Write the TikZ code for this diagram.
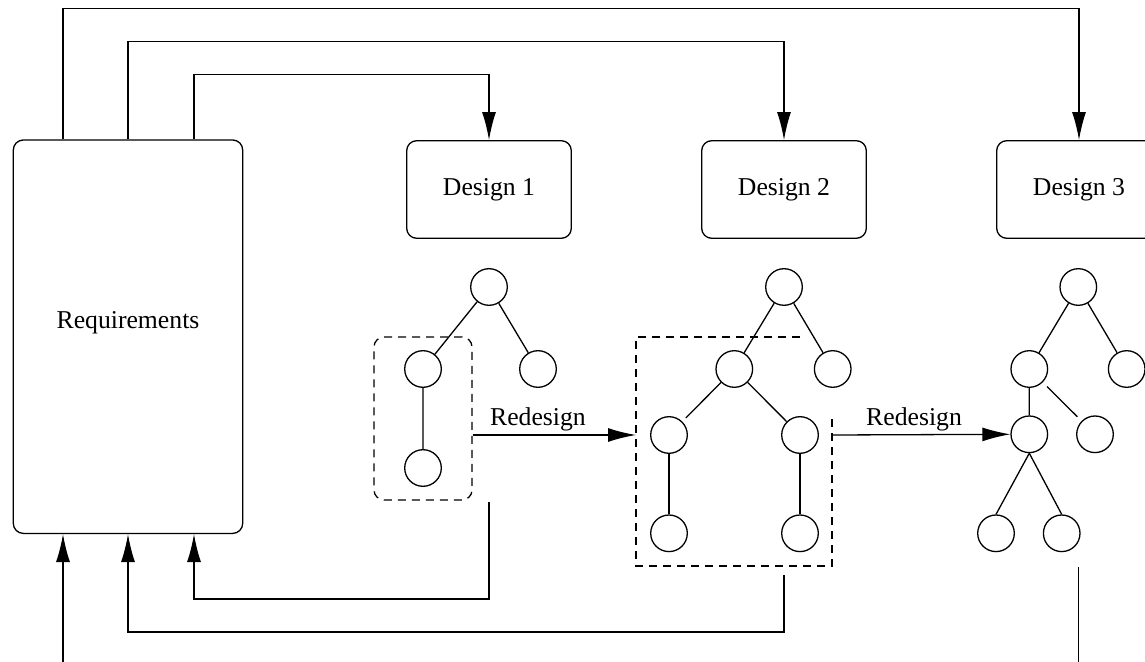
\documentclass[tikz,border=0pt]{standalone}
\usepackage{fontspec}
\setmainfont{Liberation Serif}
\usetikzlibrary{arrows.meta,calc}

\begin{document}
\begin{tikzpicture}[x=0.5pt, y=-0.5pt, line width=0.65pt,
  >={Latex[length=14pt,width=7pt]},
  font=\fontsize{12.85}{15}\selectfont,
  box/.style={draw, rounded corners=5pt, minimum width=82.3pt, minimum height=48.8pt, inner sep=0pt},
  vertex/.style={draw, circle, minimum size=18.3pt, inner sep=0pt},
  grp/.style={dash pattern=on 4pt off 3pt}]
  \useasboundingbox (0,0) rectangle (1145,662);
  \clip (0,0) rectangle (1145,662);

  % --- Requirements ---
  \node[box, minimum width=114.7pt, minimum height=196.7pt] (req) at (128,336.7) {};
  \node (reqlabel) at (128,323) {Requirements};

  % --- Designs ---
  \foreach \i/\x in {1/489, 2/784, 3/1079}
    \node[box] (d\i) at (\x,189.5) {Design \i};

  % --- Tree of design 1 ---
  \node[vertex] (t1r) at (489,287) {};
  \node[vertex] (t1a) at (423,369) {};
  \node[vertex] (t1b) at (538,369) {};
  \node[vertex] (t1c) at (423,468) {};
  \draw (t1r) -- (t1a) (t1r) -- (t1b) (t1a) -- (t1c);

  % --- Tree of design 2 ---
  \node[vertex] (t2r) at (784,287) {};
  \node[vertex] (t2a) at (734.3,369) {};
  \node[vertex] (t2b) at (832.7,369) {};
  \node[vertex] (t2c) at (669,435) {};
  \node[vertex] (t2d) at (800,435) {};
  \node[vertex] (t2e) at (669,533.3) {};
  \node[vertex] (t2f) at (800,533.3) {};
  \draw (t2r) -- (t2a) (t2r) -- (t2b) (t2a) -- (t2d);
  \draw[shorten >=2.5pt] (t2a) -- (t2c);
  \draw (t2c) -- (t2e) (t2d) -- (t2f);

  % --- Tree of design 3 ---
  \node[vertex] (t3r) at (1078.3,287) {};
  \node[vertex] (t3a) at (1029.3,369) {};
  \node[vertex] (t3b) at (1126.7,369) {};
  \node[vertex] (t3c) at (1029.3,434.3) {};
  \node[vertex] (t3d) at (1095,434.3) {};
  \node[vertex] (t3e) at (996,533.3) {};
  \node[vertex] (t3f) at (1061.7,533.3) {};
  \draw (t3r) -- (t3a) (t3r) -- (t3b) (t3a) -- (t3c);
  \draw[shorten <=3pt, shorten >=3pt] (t3a) -- (t3d);
  \draw (t3c.south) -- (t3e.north) (t3c.south) -- (t3f.north);

  % --- Redesigned parts (dashed) ---
  \node[draw, grp, rounded corners=5pt, minimum width=49pt, minimum height=81.5pt] (grp1) at (423,418.5) {};
  \node[minimum width=98pt, minimum height=114.5pt, outer sep=0pt] (grp2) at (734,451.5) {};
  \draw[grp] (t2d |- grp2.north) -- (grp2.north west) -- (grp2.south west)
    -- (grp2.south east) -- (grp2.east |- t2d.north);

  % --- Redesign steps ---
  \draw[->] (grp1.east |- t2c) -- node[pos=0.4, above, inner sep=1.5pt] (redesign1) {Redesign} (t2c -| grp2.west);
  \draw[->] (grp2.east |- t2d) -- node[pos=0.46, above, inner sep=1.5pt] (redesign2) {Redesign} (t3c.west);

  % --- Requirements feed the designs ---
  \draw[->] ($(req.north)+(-65,0)$) -- ++(0,-130.5) -| (d3.north);
  \draw[->] (req.north) -- ++(0,-98) -| (d2.north);
  \draw[->] ($(req.north)+(66,0)$) -- ++(0,-65) -| (d1.north);

  % --- Feedback to requirements ---
  \coordinate (back1) at (489,502);
  \coordinate (back2) at (784,575);
  \coordinate (back3) at (1078.3,567);
  \draw[->] (back1) -- ++(0,97) -| ($(req.south)+(66,0)$);
  \draw[->] (back2) -- ++(0,57) -| (req.south);
  \draw[->] (back3) -- ++(0,120) -| ($(req.south)+(-65,0)$);
\end{tikzpicture}
\end{document}
